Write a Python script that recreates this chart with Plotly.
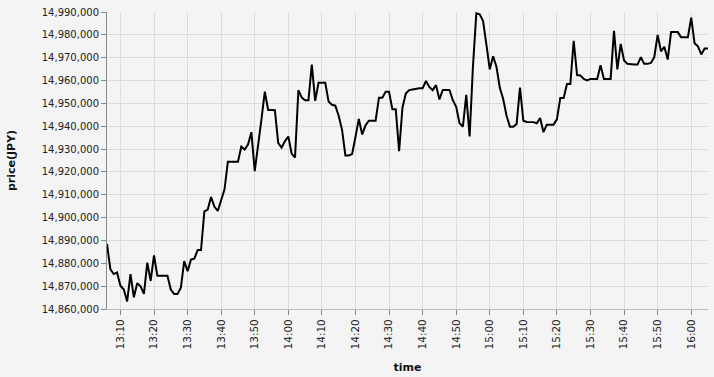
import pandas as pd
import plotly.graph_objects as go

start_time = "2024-01-01 13:06"
end_time = "2024-01-01 16:05"
times = pd.date_range(start_time, end_time, freq="1min")

prices = [
    # 13:06 - 13:59
    14888500, 14877400, 14875300, 14876000, 14870200, 14868500, 14863300, 14875300, 14865100, 14871300,
    14869900, 14866600, 14880300, 14872300, 14883500, 14874500, 14874500, 14874500, 14874500, 14868500,
    14866600, 14866600, 14869300, 14881000, 14876500, 14881600, 14882000, 14885800, 14885800, 14902700,
    14903500, 14909000, 14904700, 14902900, 14908100, 14912400, 14924400, 14924400, 14924400, 14924400,
    14931100, 14929800, 14932000, 14937400, 14920300, 14931000, 14943000, 14955100, 14947100, 14947100,
    14947000, 14932600, 14930600, 14933500,
    # 14:00 - 14:59
    14935500, 14928000, 14926300, 14955800, 14952500, 14951400, 14951400, 14967000, 14951100, 14959000,
    14959000, 14959000, 14950800, 14949400, 14949000, 14944600, 14938500, 14927200, 14927200, 14927800,
    14935300, 14943200, 14936400, 14940400, 14942400, 14942400, 14942400, 14952500, 14952500, 14955100,
    14955100, 14947400, 14947400, 14929100, 14948100, 14954300, 14955800, 14956100, 14956500, 14956600,
    14956600, 14959800, 14957200, 14955800, 14958000, 14951700, 14955900, 14955900, 14955900, 14951400,
    14948500, 14941300, 14939800, 14953700, 14935500, 14966300, 14989400, 14989000, 14986100, 14975700,
    # 15:00 - 15:59
    14964900, 14970600, 14966000, 14956800, 14951900, 14944600, 14939800, 14939800, 14941000, 14956900,
    14942400, 14941900, 14941900, 14941800, 14941300, 14943600, 14937400, 14940700, 14940700, 14940700,
    14943000, 14952400, 14952400, 14958500, 14958500, 14977400, 14962400, 14962200, 14960700, 14960100,
    14960700, 14960700, 14960700, 14966700, 14960700, 14960700, 14960700, 14981800, 14964900, 14976000,
    14968800, 14967300, 14967000, 14967000, 14967000, 14970200, 14967300, 14967300, 14967700, 14970200,
    14980000, 14972800, 14974800, 14969200, 14981200, 14981200, 14981200, 14978900, 14978900, 14978900,
    # 16:00 - 16:05
    14987500, 14976300, 14975000, 14971400, 14974000, 14974000,
]

y_min, y_max = 14860000, 14990000

fig = go.Figure(
    go.Scatter(
        x=times,
        y=prices,
        mode="lines",
        line=dict(color="#000000", width=2),
        hoverinfo="x+y",
    )
)

font = "DejaVu Sans"
bg = "#f4f4f4"
grid = "#dcdcdc"

fig.update_layout(
    width=714,
    height=377,
    margin=dict(l=107, r=6, t=10, b=67),
    paper_bgcolor=bg,
    plot_bgcolor=bg,
    showlegend=False,
    font=dict(family=font, size=10, color="#222222"),
)

fig.update_xaxes(
    type="date",
    range=[times[0], times[-1]],
    tick0="2024-01-01 13:10",
    dtick=600000,
    tickformat="%H:%M",
    tickangle=-90,
    ticks="outside",
    ticklen=5,
    tickcolor="#888888",
    showgrid=True,
    gridcolor=grid,
    gridwidth=1,
    showline=True,
    linecolor="#bbbbbb",
    linewidth=1,
    zeroline=False,
    tickfont=dict(family=font, size=10.5, color="#222222"),
    title=dict(text="<b>time</b>", font=dict(family=font, size=11, color="#111111"), standoff=14),
)

fig.update_yaxes(
    range=[y_min, y_max],
    dtick=10000,
    tickformat=",",
    ticks="outside",
    ticklen=5,
    tickcolor="#888888",
    showgrid=True,
    gridcolor=grid,
    gridwidth=1,
    showline=True,
    linecolor="#888888",
    linewidth=1,
    zeroline=False,
    tickfont=dict(family=font, size=10, color="#222222"),
    title=dict(text="<b>price(JPY)</b>", font=dict(family=font, size=11, color="#111111"), standoff=23),
)

fig.write_html("out.html")
